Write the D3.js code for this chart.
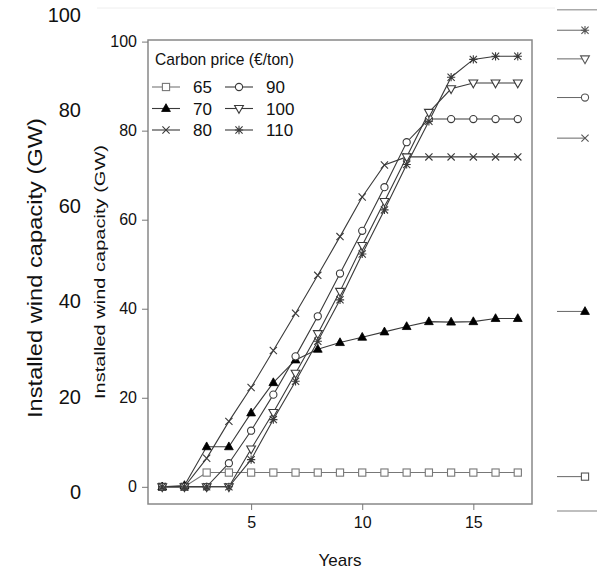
<!DOCTYPE html>
<html>
<head>
<meta charset="utf-8">
<script src="https://cdn.jsdelivr.net/npm/d3@7"></script>
<style>
  body { margin: 0; background: #fff; }
  text { font-family: "Liberation Sans", Arial, sans-serif; fill: #111; }
</style>
</head>
<body>
<div id="chart"></div>
<script>
// ---------- data ----------
var years = [1, 2, 3, 4, 5, 6, 7, 8, 9, 10, 11, 12, 13, 14, 15, 16, 17];
var prices = ["65", "70", "80", "90", "100", "110"];
var s65  = [0, 0, 3.2, 3.2, 3.2, 3.2, 3.2, 3.2, 3.2, 3.2, 3.2, 3.2, 3.2, 3.2, 3.2, 3.2, 3.2];
var s70  = [0, 0.3, 9.0, 9.0, 16.6, 23.4, 28.5, 30.9, 32.4, 33.6, 34.8, 36.0, 37.1, 37.0, 37.1, 37.8, 37.8];
var s80  = [0, 0, 6.4, 14.7, 22.3, 30.6, 39.0, 47.5, 56.2, 65.1, 72.3, 74.1, 74.1, 74.1, 74.1, 74.1, 74.1];
var s90  = [0, 0, 0, 5.3, 12.6, 20.7, 29.3, 38.3, 47.9, 57.5, 67.3, 77.4, 82.6, 82.6, 82.6, 82.6, 82.6];
var s100 = [0, 0, 0, 0, 8.5, 16.7, 25.5, 34.4, 43.9, 54.2, 64.1, 74.1, 84.1, 89.4, 90.7, 90.7, 90.7];
var s110 = [0, 0, 0, 0, 6.1, 15.1, 23.7, 32.7, 42.0, 52.3, 62.2, 72.4, 82.1, 92.0, 96.0, 96.7, 96.7];
var xTicks = [5, 10, 15];
var yTicks = [0, 20, 40, 60, 80, 100];
var legendTitle = "Carbon price (\u20ac/ton)";

var seriesList = [s65, s70, s80, s90, s100, s110];
var shapes = ["square", "triangle", "cross", "circle", "tridown", "star"];

var width = 597, height = 569;

var svg = d3.select("#chart").append("svg")
    .attr("width", width)
    .attr("height", height);

// ---------- scales ----------
var x_scale = d3.scaleLinear().domain([0.36, 17.64]).range([148, 532]);
var y_scale = d3.scaleLinear().domain([-3.86, 100.36]).range([504, 40]);
// outer (background) axis that sits behind the plot
var yo_scale = d3.scaleLinear().domain([-4, 101]).range([511, 9.7]);

// ---------- marker drawing ----------
function marker(g, shape, cx, cy, col) {
  var r = 3.6;
  if (shape == "square") {
    g.append("rect").attr("x", cx - r).attr("y", cy - r).attr("width", 2 * r).attr("height", 2 * r)
      .attr("fill", "#fff").attr("stroke", col).attr("stroke-width", 1.1);
  } else if (shape == "circle") {
    g.append("circle").attr("cx", cx).attr("cy", cy).attr("r", r)
      .attr("fill", "#fff").attr("stroke", col).attr("stroke-width", 1.1);
  } else if (shape == "triangle") {
    g.append("path").attr("d", "M" + cx + "," + (cy - 4.8) + "L" + (cx + 4.4) + "," + (cy + 3) + "L" + (cx - 4.4) + "," + (cy + 3) + "Z")
      .attr("fill", "#000").attr("stroke", "#000").attr("stroke-width", 0.8);
  } else if (shape == "tridown") {
    g.append("path").attr("d", "M" + cx + "," + (cy + 4.8) + "L" + (cx + 4.4) + "," + (cy - 3) + "L" + (cx - 4.4) + "," + (cy - 3) + "Z")
      .attr("fill", "#fff").attr("stroke", col).attr("stroke-width", 1.1);
  } else if (shape == "cross") {
    g.append("path").attr("d", "M" + (cx - r) + "," + (cy - r) + "L" + (cx + r) + "," + (cy + r) + "M" + (cx - r) + "," + (cy + r) + "L" + (cx + r) + "," + (cy - r))
      .attr("fill", "none").attr("stroke", col).attr("stroke-width", 1.1);
  } else if (shape == "star") {
    var q = r * 1.15;
    g.append("path").attr("d", "M" + (cx - r) + "," + (cy - r) + "L" + (cx + r) + "," + (cy + r) + "M" + (cx - r) + "," + (cy + r) + "L" + (cx + r) + "," + (cy - r)
        + "M" + (cx - q) + "," + cy + "L" + (cx + q) + "," + cy + "M" + cx + "," + (cy - q) + "L" + cx + "," + (cy + q))
      .attr("fill", "none").attr("stroke", col).attr("stroke-width", 1.1);
  }
}

function colorOf(i) { return i == 0 ? "#777" : "#3a3a3a"; }

// ---------- background (outer) frame ----------
svg.append("line").attr("x1", 97).attr("x2", 555).attr("y1", 8).attr("y2", 8)
  .attr("stroke", "#eee").attr("stroke-width", 1);
svg.append("line").attr("x1", 557).attr("x2", 597).attr("y1", yo_scale(101)).attr("y2", yo_scale(101))
  .attr("stroke", "#aaa").attr("stroke-width", 1.5);
svg.append("line").attr("x1", 557).attr("x2", 597).attr("y1", yo_scale(-4)).attr("y2", yo_scale(-4))
  .attr("stroke", "#aaa").attr("stroke-width", 1.5);

svg.append("g").selectAll("text").data(yTicks).enter().append("text")
  .attr("x", 81).attr("y", function(d) { return yo_scale(d); })
  .attr("dy", "0.36em").attr("text-anchor", "end")
  .style("font-size", "20px")
  .text(function(d) { return d; });

svg.append("text")
  .attr("transform", "translate(42," + 268 + ") rotate(-90)")
  .attr("text-anchor", "middle")
  .attr("textLength", 300).attr("lengthAdjust", "spacingAndGlyphs")
  .style("font-size", "21px")
  .text("Installed wind capacity (GW)");

// right-hand end markers on the outer scale
var endMarks = svg.append("g");
seriesList.forEach(function(s, i) {
  var v = s[s.length - 1];
  endMarks.append("line").attr("x1", 557).attr("x2", 585)
    .attr("y1", yo_scale(v)).attr("y2", yo_scale(v))
    .attr("stroke", "#666").attr("stroke-width", 1);
  marker(endMarks, shapes[i], 585, yo_scale(v), "#555");
});

// ---------- inner plot ----------
svg.append("rect").attr("x", 148).attr("y", 40).attr("width", 384).attr("height", 464)
  .attr("fill", "none").attr("stroke", "#888").attr("stroke-width", 1.5);

var yAxis = svg.append("g").attr("transform", "translate(148,0)")
  .call(d3.axisLeft(y_scale).tickValues(yTicks).tickSize(6).tickPadding(5));
var xAxis = svg.append("g").attr("transform", "translate(0,504)")
  .call(d3.axisBottom(x_scale).tickValues(xTicks).tickSize(6).tickPadding(7));
[yAxis, xAxis].forEach(function(a) {
  a.select(".domain").remove();
  a.selectAll("line").attr("stroke", "#777");
  a.selectAll("text").style("font-size", "16px").style("font-family", "Liberation Sans, Arial, sans-serif").attr("fill", "#111");
});

svg.append("text")
  .attr("transform", "translate(105,272) rotate(-90)")
  .attr("text-anchor", "middle")
  .attr("textLength", 254).attr("lengthAdjust", "spacingAndGlyphs")
  .style("font-size", "14px")
  .text("Installed wind capacity (GW)");

svg.append("text").attr("x", 340).attr("y", 566).attr("text-anchor", "middle")
  .style("font-size", "17px").text("Years");

var line = d3.line()
  .x(function(d, i) { return x_scale(years[i]); })
  .y(function(d) { return y_scale(d); });

var plot = svg.append("g");
seriesList.forEach(function(s, i) {
  plot.append("path").datum(s).attr("d", line)
    .attr("fill", "none").attr("stroke", colorOf(i)).attr("stroke-width", 1.1);
});
seriesList.forEach(function(s, i) {
  s.forEach(function(v, j) { marker(plot, shapes[i], x_scale(years[j]), y_scale(v), colorOf(i)); });
});

// ---------- legend ----------
var legend = svg.append("g");
legend.append("text").attr("x", 155).attr("y", 65)
  .attr("textLength", 139).attr("lengthAdjust", "spacingAndGlyphs")
  .style("font-size", "17px").text(legendTitle);

prices.forEach(function(p, i) {
  var col = Math.floor(i / 3), row = i % 3;
  var lx = 152 + col * 73, ly = 87 + row * 21.5;
  legend.append("line").attr("x1", lx).attr("x2", lx + 28).attr("y1", ly).attr("y2", ly)
    .attr("stroke", colorOf(i)).attr("stroke-width", 1.1);
  marker(legend, shapes[i], lx + 14, ly, colorOf(i));
  legend.append("text").attr("x", lx + 41).attr("y", ly + 6)
    .style("font-size", "17px").text(p);
});
</script>
</body>
</html>
